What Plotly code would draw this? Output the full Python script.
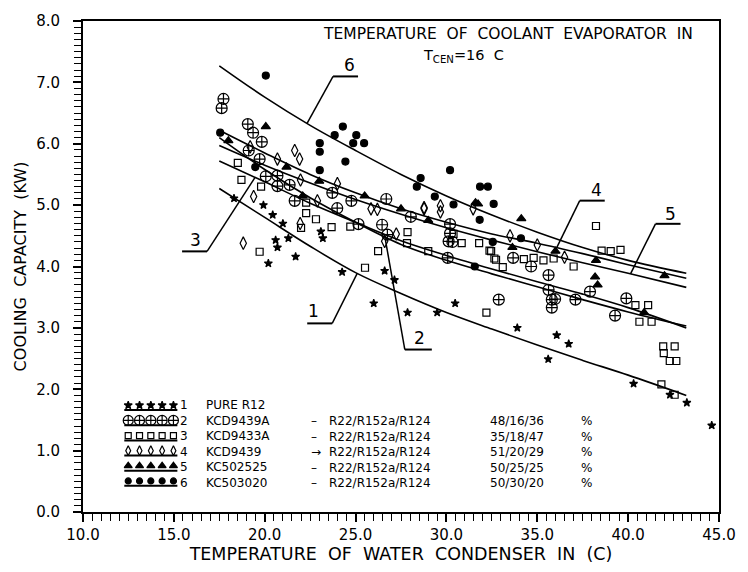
import numpy as np
import plotly.graph_objects as go

# ---------------- data ----------------
curve_x = [17.5, 20.0, 22.5, 25.0, 27.5, 30.0, 32.5, 35.0, 37.5, 40.0, 43.2]
curve1_y = [5.27, 4.80, 4.33, 3.90, 3.56, 3.25, 2.98, 2.72, 2.47, 2.23, 1.90]
curve2_y = [6.10, 5.58, 5.12, 4.72, 4.36, 4.10, 3.88, 3.67, 3.46, 3.26, 3.03]
curve3_y = [5.72, 5.38, 5.03, 4.72, 4.42, 4.18, 3.96, 3.75, 3.55, 3.33, 3.00]
curve4_y = [6.22, 5.85, 5.50, 5.20, 4.94, 4.72, 4.53, 4.38, 4.21, 4.03, 3.81]
curve5_y = [5.97, 5.65, 5.36, 5.09, 4.85, 4.63, 4.43, 4.24, 4.06, 3.89, 3.66]
curve6_y = [7.27, 6.76, 6.30, 5.89, 5.50, 5.15, 4.84, 4.56, 4.31, 4.10, 3.89]

# measured points
pts1_x = [18.31, 19.93, 20.44, 20.60, 20.70, 21.70, 20.20, 21.30, 23.20, 24.26, 26.00, 26.60, 27.14,
          27.86, 29.49, 30.48, 33.90, 36.07, 36.73, 35.60, 40.30, 42.30, 43.23, 44.60, 21.00, 23.09]
pts1_y = [5.11, 5.00, 4.84, 4.43, 4.31, 4.16, 4.05, 4.46, 4.46, 3.91, 3.40, 3.93, 3.78,
          3.25, 3.25, 3.40, 3.00, 2.88, 2.74, 2.49, 2.09, 1.91, 1.78, 1.41, 4.70, 4.57]

pts2_x = [17.73, 17.63, 19.07, 19.36, 19.84, 19.12, 19.72, 20.06, 20.70, 21.37, 20.70, 21.65, 23.72,
          23.99, 24.77, 26.69, 26.46, 26.75, 25.16, 28.04, 30.20, 30.20, 30.12, 30.33, 30.07, 33.67,
          34.66, 35.62, 35.62, 35.80, 35.98, 35.80, 37.10, 37.90, 32.88, 39.90, 39.28]
pts2_y = [6.73, 6.58, 6.32, 6.18, 6.03, 5.89, 5.75, 5.47, 5.48, 5.33, 5.31, 5.07, 5.20,
          4.95, 5.07, 5.10, 4.68, 4.52, 4.69, 4.81, 4.69, 4.54, 4.41, 4.40, 4.14, 4.14,
          4.00, 3.86, 3.62, 3.46, 3.47, 3.33, 3.46, 3.59, 3.46, 3.48, 3.20]

pts3_x = [18.52, 18.72, 19.80, 22.28, 22.28, 23.68, 22.82, 24.71, 27.86, 30.39, 19.72, 22.00, 25.52,
          26.24, 29.00, 30.84, 31.80, 32.46, 32.64, 33.10, 32.20, 32.37, 32.73, 34.26, 34.80, 35.34,
          35.90, 37.00, 38.23, 38.54, 39.04, 39.58, 40.40, 41.10, 40.62, 41.29, 41.93, 42.56, 41.96,
          42.29, 42.65, 41.83, 42.56, 27.83]
pts3_y = [5.69, 5.41, 5.30, 5.04, 4.87, 4.64, 4.77, 4.65, 4.56, 4.53, 4.24, 4.63, 3.98,
          4.25, 4.25, 4.38, 4.38, 4.25, 4.13, 3.99, 3.25, 4.26, 4.11, 4.12, 4.14, 4.10,
          4.13, 4.00, 4.66, 4.26, 4.25, 4.27, 3.37, 3.37, 3.10, 3.10, 2.70, 2.70, 2.59,
          2.46, 2.46, 2.08, 1.91, 4.38]

pts4_x = [21.65, 21.92, 20.70, 19.39, 21.97, 22.90, 25.85, 26.20, 28.77, 29.67, 29.67, 27.24, 21.95,
          18.82, 26.60, 28.77, 31.47, 19.20, 24.00, 33.50, 35.00, 36.50]
pts4_y = [5.89, 5.75, 5.75, 5.14, 5.41, 5.07, 4.94, 4.93, 4.94, 4.99, 4.89, 4.53, 4.70,
          4.38, 4.41, 4.96, 4.94, 5.95, 5.35, 4.50, 4.35, 4.15]

pts5_x = [20.06, 21.20, 22.09, 23.00, 27.50, 31.74, 34.12, 31.60, 38.23, 38.18, 38.32, 40.88, 33.63,
          18.00, 25.50, 29.00, 36.00, 42.00]
pts5_y = [6.28, 5.62, 5.15, 5.39, 4.94, 5.02, 4.78, 5.04, 4.10, 3.83, 3.70, 3.25, 4.31,
          6.05, 5.15, 4.75, 4.25, 3.85]

pts6_x = [17.55, 20.06, 24.30, 23.85, 25.04, 24.87, 25.47, 23.03, 23.03, 24.44, 23.03, 30.20, 28.58,
          31.85, 32.28, 29.36, 30.39, 31.83, 28.37, 32.60, 34.10, 32.55, 31.56, 19.48]
pts6_y = [6.18, 7.11, 6.28, 6.14, 6.14, 6.01, 6.01, 6.01, 5.87, 5.71, 5.57, 5.57, 5.44,
          5.30, 5.30, 5.14, 5.01, 4.76, 5.30, 5.02, 4.46, 4.40, 4.00, 5.62]

series_ids = ["1", "2", "3", "4", "5", "6"]
series_names = ["PURE R12", "KCD9439A", "KCD9433A", "KCD9439", "KC502525", "KC503020"]
series_arrows = ["", "–", "–", "→", "–", "–"]
series_mix = ["", "R22/R152a/R124", "R22/R152a/R124", "R22/R152a/R124", "R22/R152a/R124", "R22/R152a/R124"]
series_ratio = ["", "48/16/36", "35/18/47", "51/20/29", "50/25/25", "50/30/20"]
series_pct = ["", "%", "%", "%", "%", "%"]
label_x = [25.09, 26.61, 19.47, 36.07, 40.13, 22.33]   # where each curve number points

title_line1 = "TEMPERATURE  OF  COOLANT  EVAPORATOR  IN"
title_line2 = "T<sub>CEN</sub>=16  C"
x_title = "TEMPERATURE  OF  WATER  CONDENSER  IN  (C)"
y_title = "COOLING  CAPACITY  (KW)"

# ---------------- style ----------------
FONT = "DejaVu Sans"
INK = "black"
W, H = 748, 572
ML, MR, MT, MB = 83, 18, 13, 53
PW, PH = W - ML - MR, H - MT - MB
X_RANGE = [10, 45]
Y_RANGE = [0, 8]


def px_x(px):
    return (px - ML) / PW


def px_y(py):
    return (H - MB - py) / PH


def px_to_dx(px):
    return X_RANGE[0] + px_x(px) * (X_RANGE[1] - X_RANGE[0])


def py_to_dy(py):
    return Y_RANGE[0] + px_y(py) * (Y_RANGE[1] - Y_RANGE[0])


curves_y = [curve1_y, curve2_y, curve3_y, curve4_y, curve5_y, curve6_y]
pts_x = [pts1_x, pts2_x, pts3_x, pts4_x, pts5_x, pts6_x]
pts_y = [pts1_y, pts2_y, pts3_y, pts4_y, pts5_y, pts6_y]
symbols = ["star", "circle-cross-open", "square-open", "diamond-tall-open", "triangle-up", "circle"]
sizes = [6, 11, 7, 9, 8, 7]
leg_sizes = [6, 10, 6, 7, 7, 6]
# leader geometry in pixels (dx, dy up): leader end, shelf end, label centre
leaders = [
    ((-25, -50), (-50, -50), (-44, -38)),
    ((20, -113), (47, -113), (35, -101)),
    ((-48, -74), (-73, -74), (-60, -63)),
    ((23, 47), (48, 47), (40, 58)),
    ((25, 50), (50, 50), (40, 60)),
    ((26, 47), (51, 47), (42, 58)),
]

LEG_ROW0 = 410.0
LEG_PITCH = 15.6
LEG_FONT = 12

fig = go.Figure()
shapes = []
annotations = []

for i in range(6):
    fig.add_trace(go.Scatter(
        x=curve_x, y=curves_y[i], mode="lines", line=dict(color=INK, width=1.6, shape="spline"),
        showlegend=False, hoverinfo="skip"))
    fig.add_trace(go.Scatter(
        x=pts_x[i], y=pts_y[i], mode="markers", name=series_names[i], showlegend=False,
        marker=dict(symbol=symbols[i], size=sizes[i], color=INK,
                    line=dict(color=INK, width=1.2))))

    # curve number with leader
    ax = label_x[i]
    ay = float(np.interp(ax, curve_x, curves_y[i]))
    (lx, ly), (sx, sy), (tx, ty) = leaders[i]
    shapes.append(dict(type="line", xref="x", yref="y", xsizemode="pixel", ysizemode="pixel",
                       xanchor=ax, yanchor=ay, x0=0, y0=0, x1=lx, y1=ly,
                       line=dict(color=INK, width=1.5)))
    shapes.append(dict(type="line", xref="x", yref="y", xsizemode="pixel", ysizemode="pixel",
                       xanchor=ax, yanchor=ay, x0=lx, y0=ly, x1=sx, y1=sy,
                       line=dict(color=INK, width=2)))
    annotations.append(dict(x=ax, y=ay, xref="x", yref="y", text=series_ids[i], showarrow=False,
                            xanchor="center", yanchor="middle", borderpad=0,
                            xshift=tx, yshift=ty, font=dict(family=FONT, size=17, color=INK)))

    # hand-made legend sample (markers over a short rule)
    row_py = LEG_ROW0 + i * LEG_PITCH
    sample_x = np.linspace(px_to_dx(129), px_to_dx(175), 5)
    fig.add_trace(go.Scatter(
        x=sample_x, y=[py_to_dy(row_py - 1)] * 5, mode="markers",
        showlegend=False, hoverinfo="skip",
        marker=dict(symbol=symbols[i], size=leg_sizes[i], color=INK, line=dict(color=INK, width=1.2))))
    shapes.append(dict(type="line", xref="paper", yref="paper", x0=px_x(125), x1=px_x(179),
                       y0=px_y(row_py + 4), y1=px_y(row_py + 4), line=dict(color=INK, width=2)))

# legend text columns, one multi-line block per column
lf = dict(family=FONT, size=LEG_FONT, color=INK)
all_mid = LEG_ROW0 + 2.5 * LEG_PITCH
mix_mid = LEG_ROW0 + 3.0 * LEG_PITCH
columns = [
    (180, all_mid, series_ids),
    (206, all_mid, series_names),
    (313, mix_mid, series_arrows[1:]),
    (331, mix_mid, series_mix[1:]),
    (495, mix_mid, series_ratio[1:]),
    (588, mix_mid, series_pct[1:]),
]
for cx, cy, texts in columns:
    annotations.append(dict(x=px_x(cx), y=px_y(cy), xref="paper", yref="paper", xanchor="left",
                            yanchor="middle", align="left", text="<br>".join(texts),
                            showarrow=False, font=lf))

# heading, two separate lines
annotations.append(dict(x=px_x(515), y=px_y(26), xref="paper", yref="paper", text=title_line1,
                        xanchor="center", yanchor="middle", borderpad=0,
                        showarrow=False, font=dict(family=FONT, size=15.5, color=INK)))
annotations.append(dict(x=px_x(470), y=px_y(49), xref="paper", yref="paper", text=title_line2,
                        xanchor="center", yanchor="middle", borderpad=0,
                        showarrow=False, font=dict(family=FONT, size=14.5, color=INK)))

axis_common = dict(showgrid=False, zeroline=False, showline=True, mirror=True, linecolor=INK,
                   linewidth=2, ticks="outside", ticklen=8, tickwidth=1.5, tickcolor=INK,
                   tickformat=".1f", tickfont=dict(family=FONT, size=15, color=INK))

fig.update_layout(
    width=W, height=H, margin=dict(l=ML, r=MR, t=MT, b=MB),
    paper_bgcolor="white", plot_bgcolor="white", showlegend=False,
    xaxis=dict(range=X_RANGE, dtick=5, tick0=10,
               minor=dict(dtick=0.5, ticks="outside", ticklen=7, tickwidth=1.2, tickcolor=INK),
               title=dict(text=x_title, font=dict(family=FONT, size=17.5, color=INK), standoff=4),
               **axis_common),
    yaxis=dict(range=Y_RANGE, dtick=1, tick0=0, ticklabelstandoff=10,
               minor=dict(dtick=0.1, ticks="outside", ticklen=7, tickwidth=1.2, tickcolor=INK),
               title=dict(text=y_title, font=dict(family=FONT, size=16, color=INK), standoff=6),
               **axis_common),
    shapes=shapes, annotations=annotations,
)

fig.write_html("out.html")
